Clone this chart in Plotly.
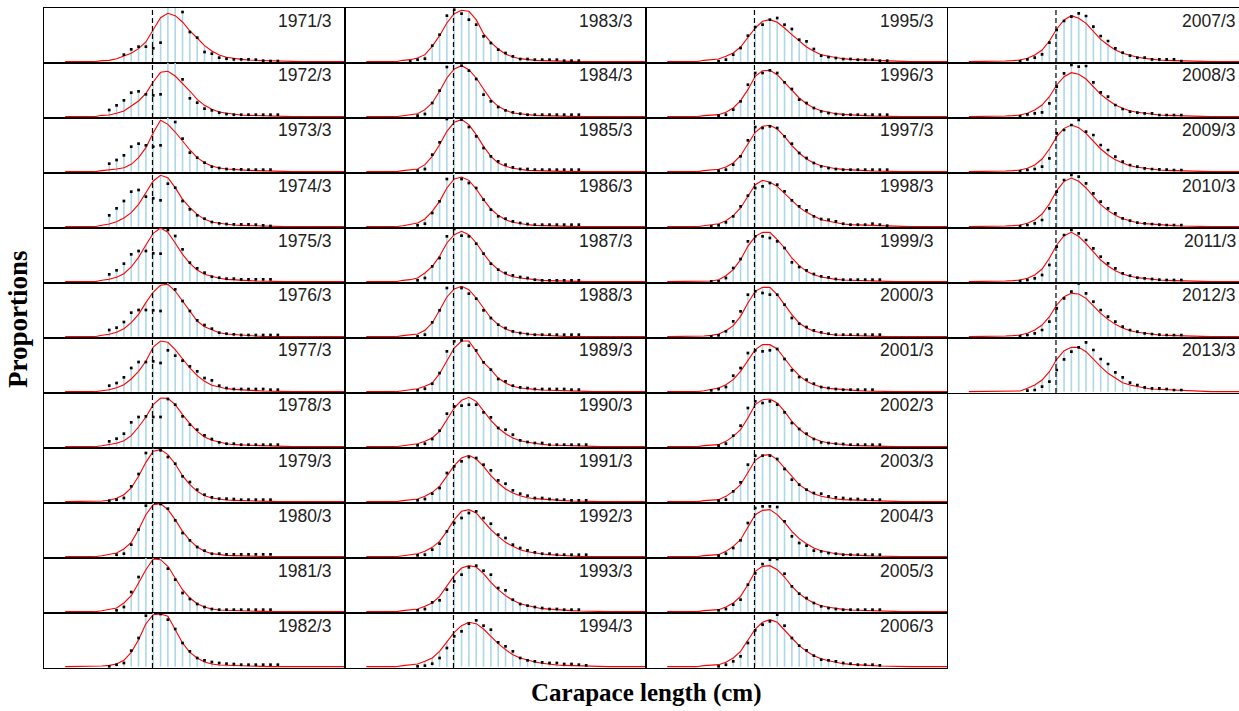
import plotly.graph_objects as go

# Carapace-length bins (cm) shared by every panel
LENGTHS = [3.0, 3.5, 4.0, 4.5, 5.0, 5.5, 6.0, 6.5, 7.0, 7.5,
           8.0, 8.5, 9.0, 9.5, 10.0, 10.5, 11.0, 11.5, 12.0, 12.5,
           13.0, 13.5, 14.0, 14.5, 15.0, 15.5, 16.0, 16.5, 17.0, 17.5,
           18.0, 18.5, 19.0, 19.5, 20.0, 20.5, 21.0, 21.5, 22.0, 22.5]

# Minimum legal size (dashed reference line)
MLS = 8.95

YEARS = list(range(1971, 2014))

# First bin index holding an observed proportion, per year
OBS_START = [8, 6, 6, 6, 6, 6, 6, 6, 6, 7, 7, 6,
             6, 7, 7, 7, 7, 7, 7, 7, 7, 7, 7, 7,
             7, 7, 7, 6, 6, 6, 6, 7, 7, 7, 7, 7,
             7, 7, 7, 7, 7, 7, 8]

# Observed proportions (%) per year, starting at OBS_START
OBSERVED = [
    [2.1, 3.7, 4.5, 4.5, 4.0, 5.7, 16.8, 17.2, 14.9, 8.9, 7.2, 2.9, 2.4, 1.2, 0.9, 0.7, 0.7, 0.7, 0.6, 0.3, 0.2, 0.2],
    [2.0, 3.4, 4.9, 7.2, 7.6, 6.7, 6.4, 6.7, 16.5, 17.0, 11.2, 5.5, 4.2, 2.4, 1.9, 1.2, 0.8, 0.6, 0.6, 0.6, 0.6, 0.6, 0.6, 0.6],
    [2.4, 3.5, 4.9, 7.5, 8.4, 7.9, 7.5, 7.9, 16.5, 14.9, 9.9, 5.7, 4.2, 2.7, 1.5, 1.1, 0.8, 0.7, 0.7, 0.6, 0.6, 0.6, 0.6],
    [3.4, 5.5, 7.7, 10.5, 11.0, 9.0, 8.5, 7.9, 12.9, 11.7, 7.7, 5.2, 3.4, 2.4, 1.4, 1.0, 0.8, 0.7, 0.7, 0.7, 0.6, 0.4, 0.2],
    [2.2, 3.4, 5.4, 8.2, 9.2, 9.2, 8.5, 8.4, 15.5, 13.7, 9.7, 5.7, 4.0, 2.7, 1.5, 1.2, 0.9, 0.9, 0.7, 0.7, 0.7, 0.7, 0.7],
    [2.0, 2.7, 4.4, 7.2, 8.0, 8.0, 7.9, 7.7, 16.5, 14.2, 10.7, 7.7, 4.9, 3.5, 2.4, 1.2, 0.9, 0.7, 0.5, 0.5, 0.5, 0.5, 0.5, 0.5],
    [1.8, 2.6, 4.3, 7.1, 8.9, 8.9, 9.1, 8.6, 12.4, 10.8, 9.3, 7.6, 6.1, 4.1, 3.4, 1.8, 1.1, 0.8, 0.8, 0.8, 0.8, 0.8, 0.6, 0.6],
    [1.6, 2.4, 3.9, 7.3, 8.9, 9.1, 8.9, 8.9, 14.3, 12.6, 9.1, 6.6, 5.1, 3.4, 2.3, 1.3, 0.9, 0.9, 0.6, 0.6, 0.6, 0.6, 0.6, 0.6],
    [0.3, 0.6, 1.1, 4.6, 8.3, 14.6, 16.3, 15.4, 13.4, 11.4, 7.6, 5.9, 3.6, 2.1, 1.3, 0.9, 0.9, 0.8, 0.6, 0.6, 0.6, 0.6, 0.6],
    [0.6, 0.9, 3.6, 8.1, 15.3, 16.5, 15.8, 14.4, 10.9, 7.1, 4.9, 2.9, 1.8, 0.9, 0.9, 0.7, 0.7, 0.7, 0.7, 0.7, 0.7, 0.7],
    [0.4, 1.4, 5.9, 10.4, 16.5, 17.0, 16.8, 12.9, 9.6, 5.6, 3.8, 2.3, 1.4, 0.8, 0.6, 0.6, 0.6, 0.6, 0.6, 0.6, 0.6, 0.6],
    [0.1, 0.6, 1.1, 4.8, 8.6, 15.3, 16.5, 15.8, 14.1, 11.3, 7.1, 4.6, 2.6, 1.9, 1.4, 1.1, 0.9, 0.8, 0.6, 0.6, 0.6, 0.6, 0.6, 0.6],
    [0.1, 0.6, 0.9, 4.8, 8.1, 13.8, 15.6, 14.4, 12.6, 11.1, 7.6, 5.6, 3.6, 2.6, 1.6, 0.8, 0.8, 0.6, 0.6, 0.6, 0.6, 0.3, 0.3, 0.3],
    [0.3, 0.8, 4.1, 7.8, 14.9, 16.5, 15.3, 13.8, 11.3, 6.6, 4.6, 2.9, 1.9, 1.3, 0.9, 0.6, 0.6, 0.6, 0.6, 0.6, 0.6, 0.6, 0.6],
    [0.3, 0.8, 5.1, 8.8, 15.8, 16.5, 15.6, 13.4, 10.6, 7.1, 4.6, 3.1, 2.1, 1.3, 0.8, 0.8, 0.6, 0.6, 0.6, 0.6, 0.6, 0.6, 0.6],
    [0.4, 0.9, 4.1, 7.6, 14.3, 16.5, 14.3, 13.1, 11.6, 8.1, 5.1, 3.1, 2.4, 1.6, 1.1, 0.8, 0.6, 0.6, 0.6, 0.6, 0.6, 0.6, 0.6],
    [0.4, 1.1, 4.6, 7.1, 13.6, 15.8, 13.8, 13.6, 11.4, 8.4, 5.4, 3.6, 2.6, 1.9, 1.4, 1.1, 0.6, 0.4, 0.4, 0.4, 0.4, 0.4, 0.4],
    [0.1, 0.6, 4.3, 7.9, 14.6, 16.3, 14.6, 12.9, 11.4, 7.9, 5.6, 3.6, 2.6, 1.6, 1.1, 0.8, 0.6, 0.6, 0.6, 0.6, 0.6, 0.6, 0.6],
    [0.4, 0.9, 2.4, 5.6, 12.1, 15.1, 15.4, 13.8, 12.4, 8.8, 6.6, 3.8, 3.1, 1.8, 1.3, 1.1, 0.8, 0.8, 0.8, 0.8, 0.8, 0.6, 0.6],
    [0.4, 0.9, 2.3, 4.8, 9.9, 12.1, 12.3, 12.6, 12.6, 10.3, 8.8, 5.6, 5.1, 3.6, 1.9, 1.4, 1.1, 1.1, 0.6, 0.6, 0.6, 0.6, 0.6, 0.6],
    [0.4, 0.8, 2.4, 4.1, 8.6, 10.6, 12.1, 13.4, 13.1, 11.1, 9.4, 6.4, 5.4, 3.4, 2.4, 1.8, 1.1, 1.1, 0.8, 0.6, 0.6, 0.4, 0.4, 0.4],
    [0.4, 0.6, 2.1, 3.9, 7.6, 10.1, 11.6, 13.1, 13.6, 11.6, 9.9, 6.6, 5.6, 3.6, 2.6, 1.9, 1.3, 0.9, 0.9, 0.6, 0.6, 0.6, 0.6, 0.6],
    [0.4, 0.8, 2.8, 3.4, 6.6, 9.1, 11.1, 13.3, 13.8, 12.3, 11.1, 7.1, 6.4, 3.6, 2.3, 1.8, 1.4, 1.1, 0.8, 0.8, 0.6, 0.6, 0.6],
    [0.1, 0.3, 0.9, 2.6, 5.6, 9.1, 10.6, 12.9, 13.9, 12.3, 11.1, 7.3, 6.1, 4.6, 2.6, 1.9, 1.6, 1.3, 1.1, 1.1, 0.8, 0.8, 0.6, 0.4],
    [0.1, 0.6, 2.1, 4.1, 7.8, 10.4, 11.1, 12.6, 13.1, 11.1, 9.8, 6.6, 6.1, 3.8, 1.8, 1.4, 1.1, 0.8, 0.8, 0.6, 0.6, 0.6, 0.3, 0.3],
    [0.3, 0.6, 2.1, 4.6, 9.6, 13.1, 13.1, 13.9, 13.1, 10.3, 8.3, 5.1, 4.1, 2.6, 1.6, 1.1, 0.8, 0.6, 0.6, 0.6, 0.6, 0.6, 0.6, 0.6],
    [0.3, 0.6, 2.1, 4.6, 9.4, 13.4, 13.1, 13.6, 13.1, 10.6, 8.4, 5.6, 4.1, 2.6, 1.6, 1.1, 0.8, 0.6, 0.6, 0.6, 0.6, 0.6, 0.6, 0.6],
    [0.1, 0.4, 1.3, 3.1, 6.1, 9.3, 11.6, 12.1, 13.1, 12.6, 10.6, 7.9, 6.1, 4.9, 3.1, 2.3, 2.1, 1.6, 0.9, 0.6, 0.6, 0.6, 0.9, 0.6, 0.3],
    [0.1, 0.1, 1.1, 4.1, 6.8, 12.1, 13.6, 13.6, 13.1, 12.1, 10.1, 5.8, 4.4, 3.4, 2.3, 1.6, 1.3, 0.8, 0.6, 0.6, 0.6, 0.6, 0.6, 0.6],
    [0.1, 0.4, 1.6, 4.6, 7.6, 12.6, 13.6, 13.1, 12.6, 12.6, 9.6, 5.6, 3.9, 2.9, 1.9, 1.3, 0.9, 0.6, 0.6, 0.6, 0.6, 0.6, 0.6, 0.6],
    [0.4, 0.8, 1.4, 4.8, 7.1, 11.6, 12.4, 12.1, 12.4, 12.8, 9.8, 6.4, 4.4, 3.6, 2.4, 1.4, 1.1, 0.8, 0.6, 0.6, 0.6, 0.6, 0.6],
    [0.3, 0.9, 3.3, 6.3, 11.6, 13.6, 13.1, 13.6, 12.6, 10.3, 7.1, 5.3, 3.9, 2.3, 1.3, 1.1, 0.9, 0.8, 0.6, 0.6, 0.6, 0.6, 0.6],
    [0.3, 0.6, 3.1, 5.8, 11.1, 13.8, 13.8, 13.8, 12.8, 9.8, 6.6, 5.1, 3.6, 2.6, 2.4, 1.6, 1.3, 1.1, 0.8, 0.8, 0.6, 0.6, 0.6],
    [0.3, 0.9, 2.6, 4.9, 10.1, 14.6, 15.1, 15.1, 14.9, 10.6, 6.1, 4.1, 3.3, 1.8, 1.6, 1.1, 0.9, 0.6, 0.6, 0.6, 0.6, 0.6, 0.6],
    [0.4, 0.8, 2.1, 3.6, 8.1, 11.5, 14.3, 15.6, 15.8, 11.4, 7.6, 5.4, 4.1, 2.6, 1.6, 1.1, 0.8, 0.6, 0.6, 0.6, 0.6, 0.6, 0.6],
    [0.1, 0.6, 1.6, 3.1, 7.1, 10.9, 12.6, 13.6, 15.6, 12.3, 8.6, 6.3, 4.9, 3.3, 2.1, 1.9, 1.6, 1.1, 0.9, 0.6, 0.6, 0.6, 0.4],
    [0.2, 0.7, 1.2, 2.2, 5.7, 9.5, 12.2, 13.5, 14.5, 13.7, 10.5, 7.7, 6.2, 4.0, 2.7, 1.8, 1.2, 1.2, 0.7, 0.7, 0.7, 0.7, 0.2],
    [0.2, 0.7, 1.0, 1.3, 4.0, 9.0, 13.0, 15.5, 15.0, 15.2, 10.3, 7.3, 6.0, 3.5, 2.3, 1.5, 1.2, 1.0, 1.0, 0.5, 0.5, 0.5, 0.5],
    [0.2, 0.5, 0.8, 1.5, 4.0, 11.5, 12.5, 14.0, 15.5, 12.0, 11.0, 8.0, 6.5, 4.5, 3.0, 2.0, 1.5, 1.0, 0.8, 0.7, 0.6, 0.5, 0.5],
    [0.2, 0.5, 1.0, 2.0, 5.5, 10.5, 14.0, 15.5, 15.0, 13.0, 10.0, 7.5, 5.5, 4.0, 2.5, 1.8, 1.2, 1.0, 0.8, 0.6, 0.5, 0.5, 0.5],
    [0.2, 0.5, 1.0, 2.0, 5.0, 10.5, 14.0, 15.5, 14.5, 12.5, 10.0, 7.5, 5.5, 4.0, 2.5, 1.8, 1.2, 1.0, 0.8, 0.6, 0.5, 0.5, 0.5],
    [0.2, 0.5, 1.0, 2.0, 4.5, 8.5, 11.5, 13.5, 16.0, 13.0, 10.5, 8.0, 6.0, 4.5, 3.0, 2.0, 1.5, 1.0, 0.8, 0.6, 0.5, 0.5, 0.5],
    [0.3, 0.5, 1.5, 3.0, 6.5, 9.7, 12.0, 13.3, 14.8, 12.5, 9.8, 8.3, 5.8, 4.3, 2.7, 2.0, 1.3, 1.0, 1.0, 0.8, 0.5, 0.5],
]

# Fitted proportions (%) for bins 5..30; bins outside that span are 0
FIT_START = 5
FITTED = [
    [0.3, 0.4, 0.9, 1.6, 2.5, 3.9, 5.9, 9.6, 13.2, 14.5, 13.8, 11.9, 9.2, 7.1, 4.8, 3.2, 2.0, 1.3, 0.9, 0.7, 0.5, 0.4, 0.3, 0.2, 0.1, 0.1],
    [0.4, 0.5, 1.0, 1.7, 3.2, 4.7, 7.0, 10.4, 13.3, 13.6, 12.2, 10.0, 7.7, 5.2, 3.4, 2.2, 1.4, 1.0, 0.7, 0.5, 0.4, 0.3, 0.2, 0.1, 0.1, 0.0],
    [0.3, 0.5, 0.8, 1.2, 2.2, 4.2, 7.2, 11.7, 15.4, 14.2, 11.9, 9.2, 6.5, 4.2, 2.7, 1.7, 1.1, 0.8, 0.6, 0.5, 0.4, 0.3, 0.2, 0.1, 0.1, 0.0],
    [0.4, 0.8, 1.5, 2.6, 4.2, 6.7, 10.2, 13.7, 15.4, 14.7, 11.7, 8.2, 5.7, 3.7, 2.2, 1.4, 1.0, 0.7, 0.5, 0.4, 0.3, 0.2, 0.1, 0.1, 0.0, 0.0],
    [0.4, 0.7, 1.3, 2.4, 4.4, 7.3, 11.0, 14.5, 16.1, 14.8, 11.6, 8.2, 5.5, 3.5, 2.2, 1.5, 1.0, 0.7, 0.5, 0.4, 0.3, 0.2, 0.1, 0.1, 0.0, 0.0],
    [0.4, 0.7, 1.3, 2.4, 4.2, 6.7, 10.2, 13.4, 15.4, 15.7, 13.7, 10.7, 7.4, 4.7, 3.0, 2.0, 1.2, 0.8, 0.6, 0.4, 0.3, 0.2, 0.1, 0.1, 0.0, 0.0],
    [0.3, 0.6, 1.2, 2.1, 3.8, 6.1, 9.1, 13.4, 15.2, 14.8, 12.6, 9.8, 7.1, 4.8, 3.1, 1.9, 1.3, 0.9, 0.7, 0.5, 0.4, 0.3, 0.2, 0.1, 0.1, 0.0],
    [0.3, 0.6, 1.0, 1.8, 3.3, 5.9, 8.9, 12.6, 14.6, 14.5, 12.6, 9.6, 6.9, 4.6, 2.9, 1.9, 1.3, 0.9, 0.6, 0.5, 0.4, 0.3, 0.2, 0.1, 0.1, 0.0],
    [0.2, 0.4, 1.0, 2.1, 4.1, 7.6, 11.8, 15.1, 15.6, 14.1, 11.3, 7.8, 5.1, 3.1, 1.8, 1.1, 0.7, 0.5, 0.4, 0.3, 0.2, 0.1, 0.1, 0.0, 0.0, 0.0],
    [0.3, 0.6, 1.1, 2.3, 4.3, 8.1, 12.6, 15.6, 15.9, 14.1, 11.1, 7.6, 4.9, 2.9, 1.6, 0.9, 0.6, 0.4, 0.3, 0.2, 0.1, 0.1, 0.0, 0.0, 0.0, 0.0],
    [0.3, 0.6, 1.1, 2.6, 4.8, 8.6, 12.6, 15.8, 15.6, 13.6, 10.1, 6.6, 4.1, 2.4, 1.4, 0.8, 0.5, 0.4, 0.3, 0.2, 0.1, 0.1, 0.0, 0.0, 0.0, 0.0],
    [0.2, 0.4, 0.8, 1.9, 4.3, 8.1, 12.9, 15.6, 15.8, 15.1, 11.1, 7.1, 4.3, 2.6, 1.4, 0.8, 0.5, 0.4, 0.3, 0.2, 0.1, 0.1, 0.0, 0.0, 0.0, 0.0],
    [0.4, 0.6, 1.1, 2.1, 4.6, 7.8, 11.6, 14.4, 15.4, 15.1, 12.6, 8.4, 5.8, 3.8, 2.3, 1.4, 0.9, 0.6, 0.4, 0.3, 0.2, 0.1, 0.1, 0.0, 0.0, 0.0],
    [0.3, 0.5, 0.9, 2.1, 4.1, 7.6, 11.6, 14.3, 15.3, 14.1, 11.6, 8.3, 5.1, 3.1, 1.9, 1.1, 0.8, 0.5, 0.4, 0.3, 0.2, 0.1, 0.1, 0.0, 0.0, 0.0],
    [0.3, 0.5, 0.8, 2.1, 4.6, 8.1, 12.1, 14.8, 15.6, 14.1, 11.1, 7.6, 4.6, 2.6, 1.6, 1.0, 0.6, 0.4, 0.3, 0.2, 0.1, 0.1, 0.0, 0.0, 0.0, 0.0],
    [0.3, 0.6, 1.1, 2.3, 4.6, 7.6, 11.6, 14.3, 14.9, 13.9, 11.3, 8.1, 5.3, 3.4, 2.1, 1.3, 0.9, 0.6, 0.4, 0.3, 0.2, 0.1, 0.1, 0.0, 0.0, 0.0],
    [0.4, 0.6, 1.1, 2.6, 4.6, 7.6, 11.6, 14.1, 15.1, 14.1, 11.6, 8.4, 5.6, 3.6, 2.3, 1.5, 1.1, 0.8, 0.6, 0.4, 0.3, 0.2, 0.1, 0.1, 0.0, 0.0],
    [0.3, 0.5, 0.8, 1.9, 4.1, 7.9, 11.9, 14.3, 15.1, 14.1, 11.6, 8.6, 5.6, 3.6, 2.3, 1.5, 1.1, 0.8, 0.6, 0.4, 0.3, 0.2, 0.1, 0.1, 0.0, 0.0],
    [0.3, 0.6, 0.9, 1.6, 2.6, 5.4, 9.4, 13.1, 15.2, 15.2, 12.1, 8.8, 6.6, 4.1, 2.6, 1.6, 1.1, 0.8, 0.7, 0.5, 0.4, 0.3, 0.2, 0.1, 0.1, 0.0],
    [0.3, 0.6, 0.9, 1.6, 2.6, 4.6, 8.1, 11.6, 13.9, 14.8, 13.6, 10.6, 7.9, 5.6, 3.9, 2.6, 1.8, 1.3, 0.9, 0.7, 0.5, 0.4, 0.3, 0.2, 0.1, 0.1],
    [0.3, 0.5, 0.8, 1.6, 2.8, 4.6, 7.6, 10.8, 13.1, 13.9, 12.8, 10.6, 7.8, 5.6, 3.8, 2.6, 1.8, 1.2, 0.9, 0.7, 0.5, 0.4, 0.3, 0.2, 0.1, 0.1],
    [0.3, 0.5, 0.9, 1.6, 2.8, 4.6, 7.6, 11.1, 13.6, 14.1, 13.1, 10.6, 8.1, 6.1, 4.3, 3.1, 2.1, 1.5, 1.1, 0.8, 0.6, 0.4, 0.3, 0.2, 0.1, 0.1],
    [0.3, 0.5, 0.8, 1.6, 2.6, 4.6, 7.6, 10.8, 13.1, 13.8, 13.4, 11.4, 8.8, 6.6, 4.8, 3.4, 2.4, 1.8, 1.3, 0.9, 0.7, 0.5, 0.4, 0.3, 0.2, 0.1],
    [0.3, 0.5, 0.8, 1.6, 2.6, 4.6, 7.6, 10.3, 12.3, 13.3, 12.9, 11.3, 9.1, 6.9, 5.1, 3.6, 2.6, 1.9, 1.4, 1.0, 0.7, 0.5, 0.4, 0.3, 0.2, 0.1],
    [0.4, 0.6, 0.8, 1.6, 2.6, 4.4, 7.1, 10.1, 12.1, 12.6, 11.8, 10.1, 8.1, 6.1, 4.4, 3.1, 2.1, 1.6, 1.2, 0.9, 0.7, 0.6, 0.5, 0.4, 0.3, 0.2],
    [0.3, 0.5, 0.6, 1.3, 2.6, 4.8, 8.1, 12.1, 13.8, 13.9, 12.6, 10.3, 7.9, 5.6, 3.9, 2.6, 1.8, 1.3, 0.9, 0.7, 0.5, 0.4, 0.3, 0.2, 0.1, 0.1],
    [0.3, 0.5, 0.7, 1.4, 2.6, 4.8, 8.1, 11.8, 13.6, 13.9, 12.8, 10.6, 7.8, 5.6, 3.8, 2.6, 1.8, 1.3, 0.9, 0.7, 0.5, 0.4, 0.3, 0.2, 0.1, 0.1],
    [0.3, 0.5, 0.9, 1.8, 3.3, 5.6, 8.9, 12.6, 13.9, 13.3, 12.1, 10.1, 7.8, 5.8, 4.3, 3.1, 2.1, 1.6, 1.1, 0.8, 0.6, 0.5, 0.4, 0.3, 0.2, 0.1],
    [0.1, 0.2, 0.6, 1.8, 3.6, 6.6, 10.6, 13.6, 14.8, 14.8, 12.6, 10.1, 7.1, 4.8, 3.1, 2.1, 1.4, 1.0, 0.7, 0.5, 0.4, 0.3, 0.2, 0.1, 0.1, 0.0],
    [0.2, 0.4, 0.8, 1.8, 3.3, 6.1, 10.1, 13.6, 14.8, 14.8, 12.6, 9.6, 6.6, 4.1, 2.6, 1.6, 1.1, 0.7, 0.5, 0.4, 0.3, 0.2, 0.1, 0.1, 0.0, 0.0],
    [0.3, 0.6, 1.1, 2.1, 3.6, 6.1, 9.4, 12.6, 14.1, 14.1, 12.8, 10.1, 7.1, 4.8, 3.1, 2.1, 1.4, 1.0, 0.8, 0.5, 0.4, 0.3, 0.2, 0.1, 0.1, 0.0],
    [0.3, 0.4, 0.6, 1.6, 3.1, 5.1, 8.6, 12.6, 14.1, 14.3, 13.1, 10.6, 7.6, 5.3, 3.6, 2.4, 1.6, 1.1, 0.8, 0.6, 0.4, 0.3, 0.2, 0.1, 0.1, 0.0],
    [0.3, 0.4, 0.6, 1.6, 3.1, 5.1, 8.6, 12.4, 13.9, 14.1, 12.6, 10.1, 7.3, 5.1, 3.6, 2.4, 1.6, 1.1, 0.8, 0.6, 0.5, 0.4, 0.3, 0.2, 0.1, 0.1],
    [0.3, 0.4, 0.6, 1.6, 3.1, 5.1, 8.9, 12.6, 13.9, 14.1, 12.6, 10.3, 7.6, 5.4, 3.9, 2.6, 1.8, 1.3, 0.9, 0.7, 0.5, 0.4, 0.3, 0.2, 0.1, 0.1],
    [0.3, 0.4, 0.6, 1.4, 2.6, 4.6, 8.1, 12.1, 13.6, 13.8, 12.6, 10.4, 7.6, 5.4, 3.8, 2.6, 1.8, 1.3, 0.9, 0.7, 0.5, 0.4, 0.3, 0.2, 0.1, 0.1],
    [0.3, 0.4, 0.6, 1.3, 2.6, 4.6, 7.9, 11.3, 13.3, 14.1, 13.3, 11.1, 8.6, 6.3, 4.6, 3.3, 2.4, 1.8, 1.3, 0.9, 0.7, 0.5, 0.4, 0.3, 0.2, 0.1],
    [0.2, 0.3, 0.5, 1.0, 2.0, 3.5, 6.2, 9.8, 12.5, 13.8, 13.0, 11.5, 9.0, 6.7, 5.0, 3.5, 2.5, 1.8, 1.3, 1.0, 0.7, 0.5, 0.4, 0.3, 0.2, 0.1],
    [0.2, 0.3, 0.5, 1.0, 2.0, 3.5, 6.0, 9.5, 12.0, 13.2, 12.7, 11.3, 9.0, 6.7, 5.0, 3.5, 2.5, 1.7, 1.3, 1.0, 0.7, 0.5, 0.4, 0.3, 0.2, 0.1],
    [0.2, 0.3, 0.5, 1.0, 2.0, 3.8, 6.8, 10.5, 13.0, 14.0, 13.2, 11.5, 9.0, 6.8, 5.0, 3.6, 2.6, 1.8, 1.3, 1.0, 0.7, 0.5, 0.4, 0.3, 0.2, 0.1],
    [0.2, 0.3, 0.5, 1.0, 2.0, 3.8, 6.8, 10.8, 13.6, 14.6, 13.6, 11.6, 9.0, 6.6, 4.8, 3.4, 2.4, 1.7, 1.2, 0.9, 0.7, 0.5, 0.4, 0.3, 0.2, 0.1],
    [0.2, 0.3, 0.5, 1.0, 2.0, 3.8, 7.0, 11.0, 13.8, 14.8, 13.6, 11.4, 8.8, 6.5, 4.7, 3.3, 2.3, 1.6, 1.2, 0.9, 0.7, 0.5, 0.4, 0.3, 0.2, 0.1],
    [0.2, 0.3, 0.5, 1.0, 2.0, 3.5, 6.0, 9.5, 12.0, 13.0, 12.8, 11.5, 9.3, 7.0, 5.2, 3.7, 2.6, 1.8, 1.3, 1.0, 0.7, 0.5, 0.4, 0.3, 0.2, 0.1],
    [0.1, 0.1, 0.2, 1.0, 2.0, 3.5, 6.0, 9.7, 12.3, 13.3, 13.3, 12.0, 9.7, 7.5, 5.5, 4.0, 2.7, 2.0, 1.5, 1.1, 0.8, 0.7, 0.5, 0.4, 0.3, 0.1],
]

# ---- page geometry (pixels) ----
W, H = 1239, 711
COL_LEFT = [44, 345, 646, 947.5]
PANEL_W = 301.0
ROW_TOP = 8.0
PANEL_H = 55.0
N_ROWS = 12
PX_PER_CM = 14.66
X_LO = 1.55
Y_RANGE = [-0.4, 16.1]

fig = go.Figure()
shapes = []
annotations = []

for p, year in enumerate(YEARS):
    col, row = divmod(p, N_ROWS)
    k = p + 1
    xa = "x" if k == 1 else f"x{k}"
    ya = "y" if k == 1 else f"y{k}"

    left = COL_LEFT[col]
    right = min(left + PANEL_W, W)
    top = ROW_TOP + row * PANEL_H
    bottom = top + PANEL_H
    x_hi = X_LO + (right - left) / PX_PER_CM

    # fitted curve over every bin
    fit_full = []
    for i in range(len(LENGTHS)):
        j = i - FIT_START
        fit_full.append(FITTED[p][j] if 0 <= j < len(FITTED[p]) else 0.0)

    obs = OBSERVED[p]
    s = OBS_START[p]
    obs_x = LENGTHS[s:s + len(obs)]

    # light-blue sticks up to the larger of observed / fitted
    sx, sy = [], []
    for i, v in enumerate(obs):
        h = max(v, fit_full[s + i])
        sx += [obs_x[i], obs_x[i], None]
        sy += [0, h, None]

    fig.add_trace(go.Scatter(x=sx, y=sy, mode="lines", xaxis=xa, yaxis=ya,
                             line=dict(color="#ADD8E6", width=1.6),
                             hoverinfo="skip", showlegend=False))
    fig.add_trace(go.Scatter(x=LENGTHS, y=fit_full, mode="lines", xaxis=xa, yaxis=ya,
                             line=dict(color="#FF0000", width=1.1),
                             showlegend=False))
    fig.add_trace(go.Scatter(x=obs_x, y=obs, mode="markers", xaxis=xa, yaxis=ya,
                             marker=dict(symbol="square", size=2.7, color="black",
                                         line=dict(width=0)),
                             showlegend=False))

    axis_style = dict(showline=True, mirror=True, linecolor="black", linewidth=1,
                      showticklabels=False, ticks="", showgrid=False,
                      zeroline=False, fixedrange=True)
    fig.layout[f"xaxis{k}" if k > 1 else "xaxis"] = dict(
        domain=[left / W, right / W], range=[X_LO, x_hi], anchor=ya, **axis_style)
    fig.layout[f"yaxis{k}" if k > 1 else "yaxis"] = dict(
        domain=[1 - bottom / H, 1 - top / H], range=Y_RANGE, anchor=xa, **axis_style)

    shapes.append(dict(type="line", xref=xa, yref=f"{ya} domain",
                       x0=MLS, x1=MLS, y0=0, y1=1,
                       line=dict(color="black", width=1.2, dash="5px,3px")))

    annotations.append(dict(text=f"{year}/3", xref="paper", yref="paper",
                            x=(left + PANEL_W - 11.0) / W, y=1 - (top + 12.5) / H,
                            xanchor="right", yanchor="middle", showarrow=False,
                            font=dict(family="Liberation Sans, Arial, sans-serif",
                                      size=17.5, color="#222222")))

annotations.append(dict(text="<b>Proportions</b>", xref="paper", yref="paper",
                        x=18 / W, y=1 - 319 / H, textangle=-90,
                        xanchor="center", yanchor="middle", showarrow=False,
                        font=dict(family="Liberation Serif, Times New Roman, serif",
                                  size=27, color="black")))
annotations.append(dict(text="<b>Carapace length (cm)</b>", xref="paper", yref="paper",
                        x=646 / W, y=1 - 693 / H,
                        xanchor="center", yanchor="middle", showarrow=False,
                        font=dict(family="Liberation Serif, Times New Roman, serif",
                                  size=25, color="black")))

fig.update_layout(width=W, height=H, margin=dict(l=0, r=0, t=0, b=0),
                  paper_bgcolor="white", plot_bgcolor="white",
                  shapes=shapes, annotations=annotations, showlegend=False)

fig.write_html("out.html")
